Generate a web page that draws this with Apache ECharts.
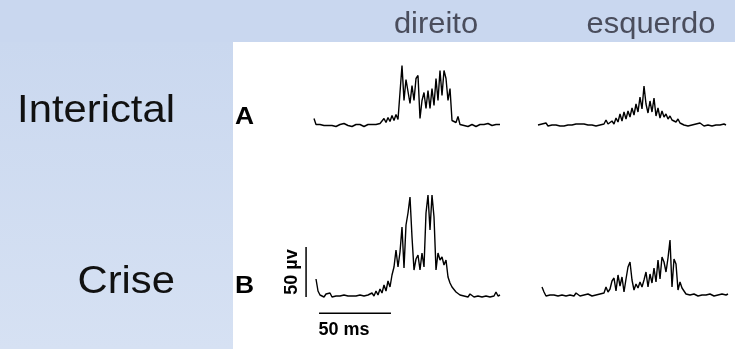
<!DOCTYPE html>
<html>
<head>
<meta charset="utf-8">
<script src="https://cdn.jsdelivr.net/npm/echarts@6/dist/echarts.min.js"></script>
<style>
  html, body { margin: 0; padding: 0; background: #fff; }
  #main { width: 735px; height: 349px; }
</style>
</head>
<body>
<div id="main"></div>
<script>
// column / row labels
var columns = ['direito', 'esquerdo'];
var rows = ['Interictal', 'Crise'];
var panelLetters = ['A', 'B'];

// sample step of the traces (ms) and scale bar sizes
var SAMPLE_MS = 1.39;
var scaleBarMs = 50;
var scaleBarUv = 50;

// EMG amplitude in µV, one value per sample
var interictalDireito = [7, 1, 0, 1, -1, 0, 1, 0, 2, 0, 1, -1, 0, 1, 0, 2, 1, 0, 1, -1,
  0, 1, 0, 1, 0, -1, 0, 1, 0, 1, 2, 1, 3, 2, 4, 7, 3, 8, 4, 10,
  5, 11, 6, 33, 60, 25, 46, 44, 22, 40, 25, 47, 50, 7, 25, 33, 17, 35, 17, 37,
  20, 47, 25, 55, 30, 55, 47, 25, 37, 5, 7, 3, 9, 1, 3, 0, 1, -1, 0, 1,
  0, -1, 0, 1, 0, 1, 0, 2, 1, 0, 2, 1, 3, 1];

var interictalEsquerdo = [1, 0, 2, 1, 3, 0, 2, 1, 0, 1, -1, 0, 1, 0, 2, 1, 3, 1, 0, 2,
  1, 2, 1, 2, 0, 1, 3, 1, 2, 0, 2, 1, 3, 2, 6, 2, 3, 5, 2, 8,
  4, 12, 5, 14, 7, 15, 9, 18, 11, 22, 14, 29, 17, 40, 22, 13, 25, 14, 28, 10,
  18, 8, 15, 9, 12, 7, 10, 6, 8, 4, 7, 3, 5, 1, 2, 0, 2, 1, 0, 2,
  1, 3, 1, 0, 2, 1, 3, 0, 2, 1, 3, 1, 0, 2, 1];

var criseDireito = [18, 6, 2, 4, 0, 3, 1, 4, 0, 2, 1, 0, 1, 0, 2, 0, 1, 0, 1, 0,
  1, 0, 2, 0, 1, 0, 2, 1, 4, 1, 6, 2, 8, 4, 12, 6, 16, 10, 22, 30,
  47, 30, 45, 70, 29, 72, 84, 100, 60, 27, 38, 42, 27, 44, 30, 84, 102, 67, 102, 80,
  27, 44, 37, 40, 32, 37, 20, 14, 10, 9, 5, 6, 2, 3, 1, 2, 0, 3, 1, 0,
  2, 1, 3, 0, 2, 1, 3, 0, 2, 1, 5, 1, 2];

var criseEsquerdo = [9, 4, 0, 2, 1, 3, 1, 2, 0, 2, 1, 3, 0, 2, 1, 2, 0, 3, 1, 0,
  2, 1, 0, 2, 1, 0, 2, 1, 3, 2, 4, 3, 9, 4, 7, 15, 18, 5, 21, 10,
  19, 4, 17, 29, 34, 16, 6, 12, 8, 14, 9, 16, 24, 9, 22, 13, 28, 14, 36, 17,
  39, 34, 24, 38, 56, 9, 37, 32, 6, 14, 8, 10, 2, 3, 1, 0, 2, 1, 0, 2,
  1, 0, 1, 0, 2, 1, 0, 2, 1, 0, 2, 3, 1, 2];

var PX_PER_MS = 2 / SAMPLE_MS;
var PX_PER_UV = 1.0;

// placement of each trace: left edge and baseline in px
var panels = [
  { data: interictalDireito, left: 314, base: 125.5, tMin: 0, vMin: -6 },
  { data: interictalEsquerdo, left: 538, base: 126, tMin: 0, vMin: -6 },
  { data: criseDireito, left: 316, base: 297, tMin: -8, vMin: -20 },
  { data: criseEsquerdo, left: 542, base: 296, tMin: 0, vMin: -6 }
];
var vMax = 110;

var chartDom = document.getElementById('main');
var myChart = echarts.init(chartDom, null, { renderer: 'canvas' });

var grid = [], xAxis = [], yAxis = [], series = [];

panels.forEach(function (p, idx) {
  var tMax = (p.data.length - 1) * SAMPLE_MS;
  grid.push({
    left: p.left + p.tMin * PX_PER_MS,
    top: p.base - vMax * PX_PER_UV,
    width: (tMax - p.tMin) * PX_PER_MS,
    height: (vMax - p.vMin) * PX_PER_UV,
    containLabel: false
  });
  xAxis.push({ type: 'value', gridIndex: idx, min: p.tMin, max: tMax, show: false });
  yAxis.push({ type: 'value', gridIndex: idx, min: p.vMin, max: vMax, show: false });
  series.push({
    type: 'line',
    xAxisIndex: idx,
    yAxisIndex: idx,
    showSymbol: false,
    silent: true,
    lineStyle: { color: '#000', width: 1.4 },
    data: p.data.map(function (v, i) { return [i * SAMPLE_MS, v]; })
  });
});

// scale bars, drawn in the axes of the "Crise / direito" trace
series.push({
  type: 'line', xAxisIndex: 2, yAxisIndex: 2, showSymbol: false, silent: true,
  lineStyle: { color: '#000', width: 1.5 },
  data: [[-6.9, 0], [-6.9, scaleBarUv]]
});
series.push({
  type: 'line', xAxisIndex: 2, yAxisIndex: 2, showSymbol: false, silent: true,
  lineStyle: { color: '#000', width: 1.5 },
  data: [[2.1, -16.3], [2.1 + scaleBarMs, -16.3]]
});

var FONT = '"Liberation Sans", Arial, sans-serif';

var graphic = [
  { type: 'rect', z: -10, shape: { x: 0, y: 0, width: 735, height: 42 }, style: { fill: '#c9d7ef' } },
  {
    type: 'rect', z: -10, shape: { x: 0, y: 42, width: 233, height: 307 },
    style: {
      fill: new echarts.graphic.LinearGradient(0, 0, 0, 1, [
        { offset: 0, color: '#cad8ef' },
        { offset: 1, color: '#d6e1f3' }
      ])
    }
  },
  { type: 'text', x: 436, y: 25, scaleX: 1.03, style: { text: columns[0], font: '30px ' + FONT, fill: '#4a4d5c', align: 'center', verticalAlign: 'middle' } },
  { type: 'text', x: 651, y: 25, scaleX: 1.03, style: { text: columns[1], font: '30px ' + FONT, fill: '#4a4d5c', align: 'center', verticalAlign: 'middle' } },
  { type: 'text', x: 175, y: 112, scaleX: 1.1, style: { text: rows[0], font: '38px ' + FONT, fill: '#111', align: 'right', verticalAlign: 'middle' } },
  { type: 'text', x: 175, y: 283, scaleX: 1.1, style: { text: rows[1], font: '38px ' + FONT, fill: '#111', align: 'right', verticalAlign: 'middle' } },
  { type: 'text', x: 235, y: 117, scaleX: 1.1, style: { text: panelLetters[0], font: 'bold 24px ' + FONT, fill: '#000', align: 'left', verticalAlign: 'middle' } },
  { type: 'text', x: 235, y: 286, scaleX: 1.1, style: { text: panelLetters[1], font: 'bold 24px ' + FONT, fill: '#000', align: 'left', verticalAlign: 'middle' } },
  {
    type: 'text', x: 292, y: 272, rotation: Math.PI / 2,
    style: { text: scaleBarUv + ' µv', font: 'bold 18px ' + FONT, fill: '#000', align: 'center', verticalAlign: 'middle' }
  },
  { type: 'text', x: 344, y: 330, style: { text: scaleBarMs + ' ms', font: 'bold 18px ' + FONT, fill: '#000', align: 'center', verticalAlign: 'middle' } }
];

var option = {
  animation: false,
  backgroundColor: '#fff',
  grid: grid,
  xAxis: xAxis,
  yAxis: yAxis,
  series: series,
  graphic: graphic
};
option && myChart.setOption(option);
</script>
</body>
</html>
